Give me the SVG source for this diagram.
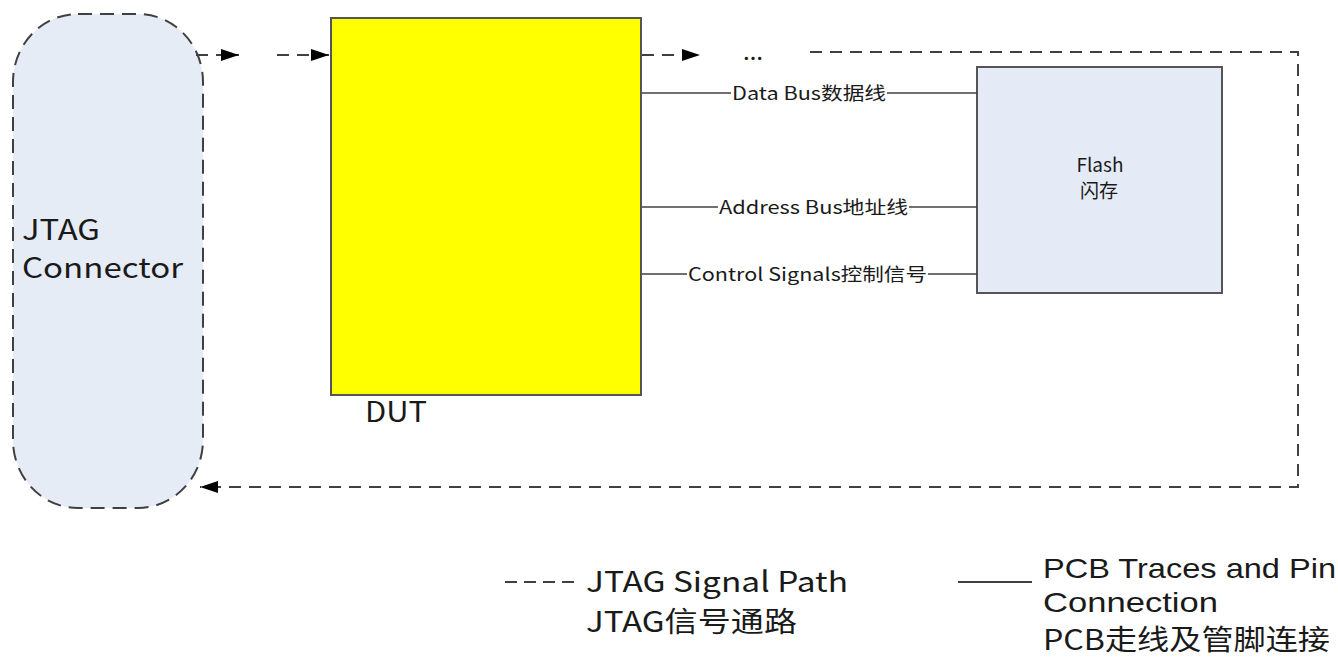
<svg xmlns="http://www.w3.org/2000/svg" width="1338" height="657" viewBox="0 0 1338 657">
<style>
text{font-family:"Noto Sans CJK SC","Microsoft YaHei","Noto Sans",sans-serif;fill:#1a1a1a}
.dash{fill:none;stroke:#404040;stroke-width:2;stroke-dasharray:12 8}
.solid{fill:none;stroke:#404040;stroke-width:1.6}
.lbl{font-size:18px}
.big{font-size:28px}
.lat{font-family:"Liberation Sans","Noto Sans",sans-serif;font-size:28px}
</style>
<defs>
<marker id="arr" viewBox="0 0 18 12" refX="18" refY="6" markerWidth="18" markerHeight="12" markerUnits="userSpaceOnUse" orient="auto">
<path d="M0,0 L18,6 L0,12 Z" fill="#000"/>
</marker>
</defs>
<g id="jtag-connector">
<rect x="13" y="14" width="190" height="494" rx="65" ry="68" fill="#E6ECF6" stroke="#404040" stroke-width="2" stroke-dasharray="14 8"/>
<text class="big" x="22" y="240" textLength="78" lengthAdjust="spacingAndGlyphs">JTAG</text>
<text class="big" x="22" y="278" textLength="161" lengthAdjust="spacingAndGlyphs">Connector</text>
</g>
<g id="dut">
<rect x="331" y="18" width="310" height="377" fill="#FFFF00" stroke="#555" stroke-width="2"/>
<text class="big" x="365" y="422" textLength="62" lengthAdjust="spacingAndGlyphs">DUT</text>
</g>
<g id="flash">
<rect x="977" y="67" width="245" height="226" fill="#E5EBF6" stroke="#555" stroke-width="2"/>
<text x="1100" y="172" font-size="19" text-anchor="middle" fill="#333">Flash</text>
<text x="1099" y="198" font-size="19" text-anchor="middle" fill="#333">闪存</text>
</g>
<g id="connectors">
<line class="dash" x1="196" y1="55" x2="239" y2="55" marker-end="url(#arr)"/>
<line class="dash" x1="277" y1="55" x2="329" y2="55" marker-end="url(#arr)" stroke-dasharray="14 8"/>
<line class="dash" x1="642" y1="55" x2="700" y2="55" marker-end="url(#arr)"/>
<text x="753" y="66" font-size="20" text-anchor="middle" font-weight="bold">…</text>
<polyline class="dash" points="810,52 1298,52 1298,487 200,487" marker-end="url(#arr)"/>
<line class="solid" x1="642" y1="93" x2="977" y2="93"/>
<line class="solid" x1="642" y1="207" x2="977" y2="207"/>
<line class="solid" x1="642" y1="274" x2="977" y2="274"/>
<rect x="731" y="82" width="156" height="22" fill="#fff"/>
<text class="lbl" x="732" y="100" textLength="154" lengthAdjust="spacingAndGlyphs">Data Bus数据线</text>
<rect x="718" y="196" width="191" height="22" fill="#fff"/>
<text class="lbl" x="719" y="214" textLength="189" lengthAdjust="spacingAndGlyphs">Address Bus地址线</text>
<rect x="687" y="263" width="241" height="22" fill="#fff"/>
<text class="lbl" x="688" y="281" textLength="239" lengthAdjust="spacingAndGlyphs">Control Signals控制信号</text>
</g>
<g id="legend">
<line x1="505" y1="582" x2="578" y2="582" stroke="#404040" stroke-width="2" stroke-dasharray="12 7"/>
<text class="big" x="586" y="592" textLength="262" lengthAdjust="spacingAndGlyphs">JTAG Signal Path</text>
<text class="big" x="586" y="632" textLength="211" lengthAdjust="spacingAndGlyphs">JTAG信号通路</text>
<line x1="958" y1="582" x2="1032" y2="582" stroke="#404040" stroke-width="2"/>
<text class="lat" x="1043" y="578" textLength="293" lengthAdjust="spacingAndGlyphs">PCB Traces and Pin</text>
<text class="lat" x="1043" y="612" textLength="175" lengthAdjust="spacingAndGlyphs">Connection</text>
<text class="big" x="1043" y="650" font-size="27" textLength="287" lengthAdjust="spacingAndGlyphs">PCB走线及管脚连接</text>
</g>
</svg>
